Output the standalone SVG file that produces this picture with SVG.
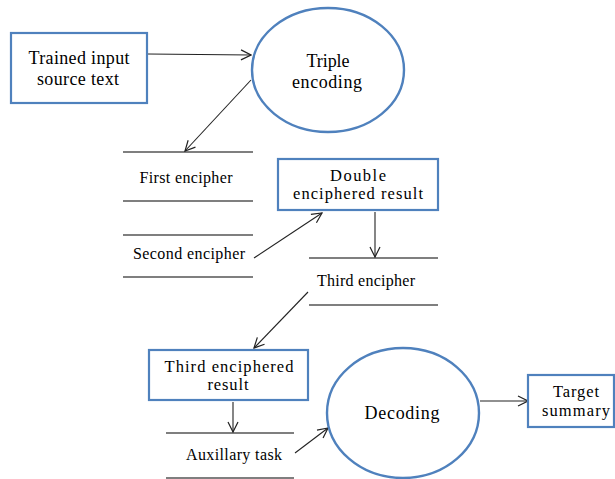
<svg xmlns="http://www.w3.org/2000/svg" width="615" height="479" viewBox="0 0 615 479">
<defs>
<style>
.box{fill:#fff;stroke:#4F81BD;stroke-width:2.2}
.el{fill:#fff;stroke:#4F81BD;stroke-width:2.4}
.t{font-family:"Liberation Serif",serif;font-size:18px;fill:#000;text-anchor:middle}
.t2{font-family:"Liberation Serif",serif;font-size:16.5px;fill:#000;text-anchor:middle}
.s{font-family:"Liberation Serif",serif;font-size:16px;fill:#000;text-anchor:middle}
.ln{stroke:#000;stroke-width:1.2;fill:none}
.ar{stroke:#222;stroke-width:1.1;fill:none;marker-end:url(#ah)}
</style>
<marker id="ah" viewBox="0 0 12 12" refX="11" refY="6" markerWidth="12" markerHeight="12" markerUnits="userSpaceOnUse" orient="auto">
<polyline points="1,1 11,6 1,11" fill="none" stroke="#222" stroke-width="1.2"/>
</marker>
</defs>
<rect width="615" height="479" fill="#fff"/>
<g id="connectors">
<line class="ar" x1="148" y1="54" x2="251" y2="55"/>
<line class="ar" x1="251" y1="80" x2="185" y2="151"/>
<line class="ar" x1="254" y1="258" x2="322" y2="213"/>
<line class="ar" x1="375" y1="212" x2="375" y2="257"/>
<line class="ar" x1="308" y1="292" x2="254" y2="348"/>
<line class="ar" x1="233" y1="402" x2="233" y2="432"/>
<line class="ar" x1="295" y1="453" x2="328" y2="428"/>
<line class="ar" x1="480" y1="401" x2="528" y2="401"/>
</g>
<g id="n_input">
<rect class="box" x="11" y="33" width="136" height="70"/>
<text class="t" x="79" y="64" textLength="101" lengthAdjust="spacing">Trained input</text>
<text class="t" x="78" y="85" textLength="82" lengthAdjust="spacing">source text</text>
</g>
<g id="n_triple">
<ellipse class="el" cx="328" cy="70" rx="76" ry="62"/>
<text class="t" x="328" y="67" textLength="43" lengthAdjust="spacing">Triple</text>
<text class="t" x="327" y="88" textLength="70" lengthAdjust="spacing">encoding</text>
</g>
<g id="n_first">
<line class="ln" x1="123" y1="152" x2="253" y2="152"/>
<line class="ln" x1="123" y1="201" x2="253" y2="201"/>
<text class="s" x="186" y="183" textLength="93" lengthAdjust="spacing">First encipher</text>
</g>
<g id="n_second">
<line class="ln" x1="123" y1="235" x2="253" y2="235"/>
<line class="ln" x1="123" y1="277" x2="253" y2="277"/>
<text class="s" x="189" y="259" textLength="112" lengthAdjust="spacing">Second encipher</text>
</g>
<g id="n_double">
<rect class="box" x="278" y="159" width="160" height="51"/>
<text class="t2" x="358" y="181" textLength="56" lengthAdjust="spacing">Double</text>
<text class="t2" x="358" y="199" textLength="130" lengthAdjust="spacing">enciphered result</text>
</g>
<g id="n_third">
<line class="ln" x1="309" y1="258" x2="438" y2="258"/>
<line class="ln" x1="309" y1="305" x2="438" y2="305"/>
<text class="s" x="366" y="286" textLength="98" lengthAdjust="spacing">Third encipher</text>
</g>
<g id="n_thirdres">
<rect class="box" x="149" y="350" width="159" height="50"/>
<text class="t2" x="229" y="372" textLength="129" lengthAdjust="spacing">Third enciphered</text>
<text class="t2" x="228" y="390" textLength="41" lengthAdjust="spacing">result</text>
</g>
<g id="n_aux">
<line class="ln" x1="166" y1="433" x2="294" y2="433"/>
<line class="ln" x1="166" y1="478" x2="294" y2="478"/>
<text class="s" x="234" y="460" textLength="96" lengthAdjust="spacing">Auxillary task</text>
</g>
<g id="n_decoding">
<ellipse class="el" cx="403" cy="413" rx="76" ry="65"/>
<text class="t" x="402" y="419" textLength="75" lengthAdjust="spacing">Decoding</text>
</g>
<g id="n_target">
<rect class="box" x="528" y="375" width="86" height="52"/>
<text class="t2" x="576" y="397" textLength="46" lengthAdjust="spacing">Target</text>
<text class="t2" x="576" y="416" textLength="68" lengthAdjust="spacing">summary</text>
</g>
</svg>
